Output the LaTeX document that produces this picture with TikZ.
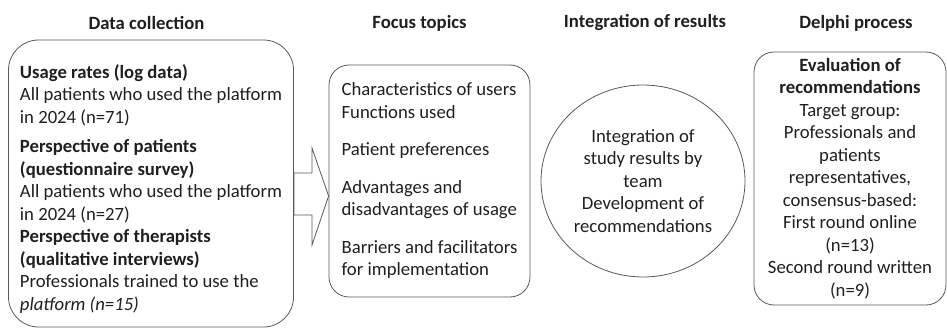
\documentclass[tikz,border=0pt]{standalone}
\usepackage{fontspec}
\setmainfont{Carlito}
\usetikzlibrary{positioning,shapes.geometric}

\begin{document}
\begin{tikzpicture}[
    x=1pt, y=1pt,
    every node/.style={font=\fontsize{18.7}{22.5}\selectfont, text=black!88},
    box/.style={draw=black!65, line width=0.8pt, rounded corners=20pt, inner sep=0pt},
    head/.style={font=\fontsize{18.7}{22}\selectfont\bfseries},
    blockarrow/.style={draw=black!65, line width=0.8pt, line join=miter}]
    \useasboundingbox (0,0) rectangle (947,-329);

    % column titles
    \node (hcollect) [head] at (146.5,-23) {Data collection};
    \node (htopics)  [head] at (419.5,-23) {Focus topics};
    \node (hinteg)   [head] at (645,-23) {Integration of results};
    \node (hdelphi)  [head] at (856,-23) {Delphi process};

    % first line gets a strut so the text sits a bit lower in the box
    \node (collect) [box, rounded corners=30pt, minimum width=285, minimum height=287, align=left] at (151,-183.5)
        {\rule{0pt}{25pt}\textbf{Usage rates (log data)}\\All patients who used the platform\\in 2024 (n=71)\\[7pt]
         \textbf{Perspective of patients}\\\textbf{(questionnaire survey)}\\All patients who used the platform\\in 2024 (n=27)\\
         \textbf{Perspective of therapists}\\\textbf{(qualitative interviews)}\\Professionals trained to use the\\\textit{platform (n=15)}};
    \node (topics) [box, minimum width=201, minimum height=232, align=left] at (429.5,-181)
        {Characteristics of users\\Functions used\\[15pt]
         Patient preferences\\[15pt]
         Advantages and\\disadvantages of usage\\[15pt]
         Barriers and facilitators\\for implementation};
    \node (integ) [draw=black!65, line width=0.8pt, ellipse, minimum width=204, minimum height=192, inner sep=0pt, align=center] at (643,-181)
        {Integration of\\study results by\\team\\Development of\\recommendations};
    \node (delphi) [box, minimum width=192, minimum height=253, align=center] at (850,-178.5)
        {\textbf{Evaluation of}\\\textbf{recommendations}\\Target group:\\Professionals and\\patients\\representatives,\\consensus-based:\\First round online\\(n=13)\\Second round written\\(n=9)};

    % block arrow into the topics
    \draw[blockarrow] (collect.east |- 0,-173) -- (312,-173) -- (312,-148) -- (topics.west |- 0,-196)
        -- (312,-245) -- (312,-215) -- (collect.east |- 0,-215) -- cycle;
  \end{tikzpicture}
\end{document}
